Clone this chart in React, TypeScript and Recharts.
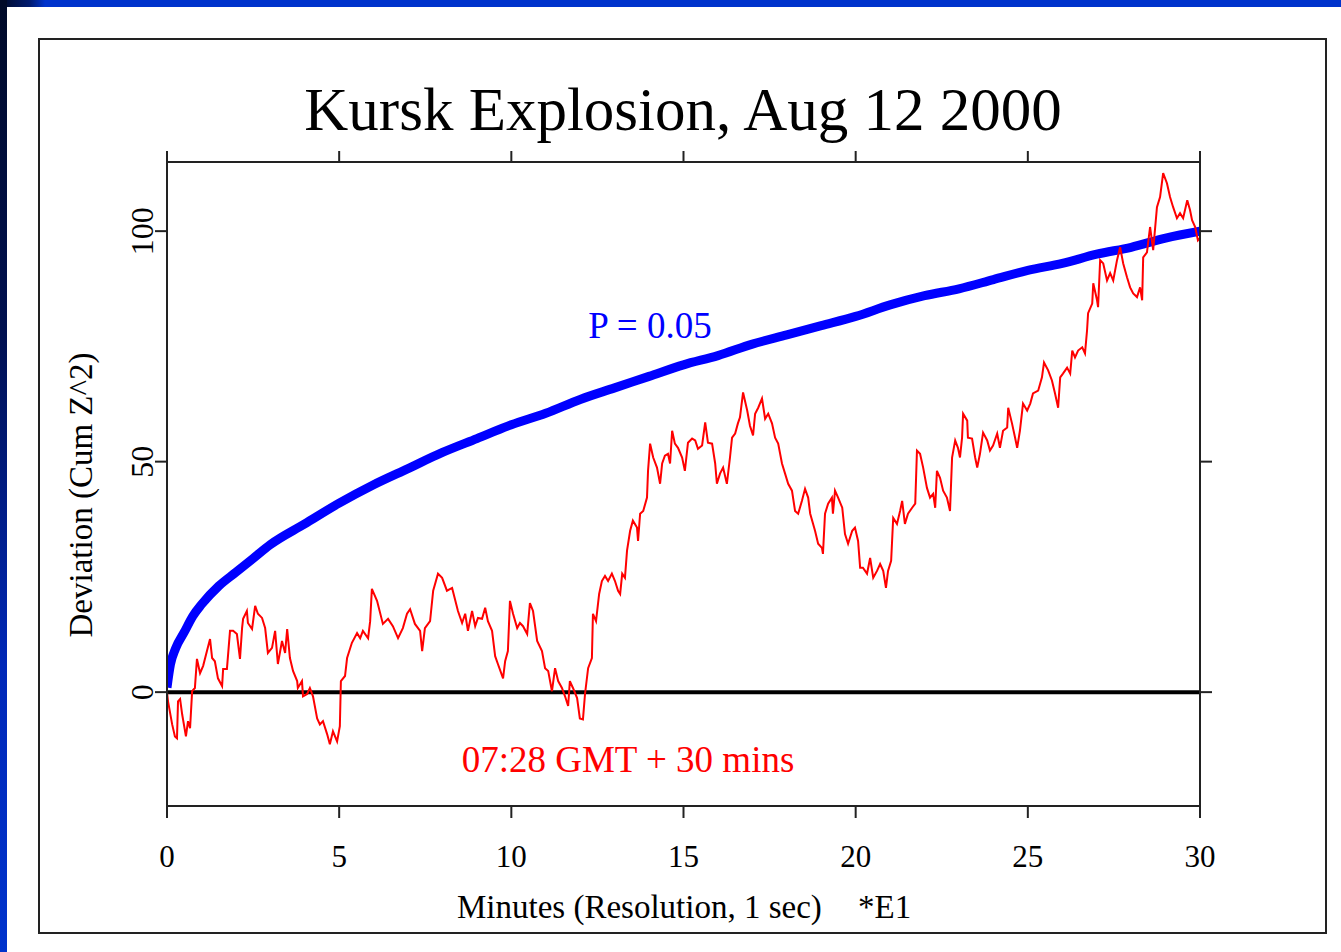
import React from 'react';
import { LineChart, Line, XAxis, YAxis, ReferenceLine } from 'recharts';

const title = 'Kursk Explosion, Aug 12 2000';
const xAxisLabel = 'Minutes (Resolution, 1 sec)';
const xAxisNote = '*E1';
const yAxisLabel = 'Deviation (Cum Z^2)';
const envelopeLabel = 'P = 0.05';
const seriesLabel = '07:28 GMT + 30 mins';

const xTicks = [0, 5, 10, 15, 20, 25, 30];
const yTicks = [0, 50, 100];

// P = 0.05 envelope (minutes, cumulative deviation)
const blueT = [0, 0.1, 0.25, 0.5, 0.75, 1, 1.5, 2, 2.5, 3, 4, 5, 6, 7, 8, 9, 10, 11, 12, 13, 14, 15, 16, 17, 18, 19, 20, 21, 22, 23, 24, 25, 26, 27, 28, 29, 30];
const blueV = [1, 6, 9.5, 13, 16.5, 19, 23, 26, 29, 32, 36.5, 41, 45, 48.5, 52, 55, 58, 60.5, 63.5, 66, 68.5, 71, 73, 75.5, 77.5, 79.5, 81.5, 84, 86, 87.5, 89.5, 91.5, 93, 95, 96.5, 98.5, 100];

// Observed cumulative deviation (minutes)
const redT = [
  0, 0.03, 0.15, 0.23, 0.29, 0.32, 0.38, 0.44, 0.55, 0.61, 0.67, 0.73, 0.81, 0.87, 0.96, 1.05, 1.16, 1.25, 1.31, 1.39,
  1.48, 1.6, 1.63, 1.74, 1.83, 1.92, 2.03, 2.12, 2.18, 2.21, 2.32, 2.35, 2.47, 2.56, 2.64, 2.76, 2.85, 2.93, 3.05, 3.14,
  3.22, 3.34, 3.43, 3.49, 3.57, 3.66, 3.78, 3.8, 3.92, 3.95, 4.07, 4.15, 4.24, 4.36, 4.44, 4.53, 4.65, 4.73, 4.82, 4.94,
  5.02, 5.05, 5.17, 5.23, 5.37, 5.52, 5.61, 5.69, 5.84, 5.9, 5.95, 6.1, 6.27, 6.42, 6.56, 6.71, 6.85, 6.97, 7.06, 7.2,
  7.35, 7.41, 7.49, 7.64, 7.73, 7.87, 7.99, 8.13, 8.28, 8.45, 8.57, 8.66, 8.74, 8.86, 8.95, 9.03, 9.15, 9.24, 9.32, 9.44,
  9.53, 9.61, 9.76, 9.82, 9.9, 9.96, 10.05, 10.17, 10.25, 10.34, 10.46, 10.54, 10.63, 10.75, 10.89, 10.98, 11.07, 11.18, 11.27, 11.36,
  11.47, 11.56, 11.65, 11.7, 11.79, 11.91, 11.99, 12.08, 12.14, 12.23, 12.34, 12.37, 12.46, 12.55, 12.63, 12.72, 12.81, 12.92, 13.01, 13.1,
  13.16, 13.22, 13.3, 13.36, 13.45, 13.53, 13.65, 13.68, 13.74, 13.83, 13.94, 13.97, 14.03, 14.12, 14.23, 14.32, 14.38, 14.46, 14.55, 14.61,
  14.67, 14.75, 14.84, 14.96, 15.04, 15.13, 15.25, 15.34, 15.42, 15.54, 15.63, 15.71, 15.83, 15.92, 15.97, 16.06, 16.15, 16.26, 16.35, 16.41,
  16.5, 16.58, 16.64, 16.73, 16.85, 16.93, 17.02, 17.08, 17.17, 17.28, 17.37, 17.46, 17.57, 17.66, 17.75, 17.86, 17.95, 18.04, 18.15, 18.24,
  18.33, 18.44, 18.53, 18.62, 18.68, 18.82, 18.91, 19.02, 19.05, 19.11, 19.2, 19.31, 19.34, 19.4, 19.49, 19.61, 19.69, 19.78, 19.9, 19.98,
  20.07, 20.13, 20.21, 20.33, 20.42, 20.51, 20.62, 20.71, 20.8, 20.88, 20.94, 21.03, 21.09, 21.2, 21.29, 21.35, 21.43, 21.52, 21.64, 21.73,
  21.78, 21.87, 21.96, 22.07, 22.16, 22.25, 22.31, 22.36, 22.45, 22.54, 22.65, 22.74, 22.8, 22.89, 22.97, 23.03, 23.09, 23.12, 23.24, 23.26,
  23.38, 23.47, 23.53, 23.61, 23.7, 23.82, 23.9, 23.99, 24.11, 24.19, 24.28, 24.4, 24.43, 24.54, 24.63, 24.69, 24.77, 24.86, 24.98, 25.07,
  25.15, 25.3, 25.41, 25.47, 25.59, 25.7, 25.79, 25.88, 25.94, 26.02, 26.14, 26.23, 26.29, 26.37, 26.46, 26.58, 26.66, 26.72, 26.75, 26.87,
  26.9, 27.01, 27.04, 27.1, 27.19, 27.3, 27.39, 27.48, 27.59, 27.68, 27.77, 27.88, 27.97, 28.06, 28.17, 28.26, 28.32, 28.35, 28.46, 28.55,
  28.64, 28.75, 28.84, 28.93, 29.04, 29.13, 29.22, 29.33, 29.42, 29.51, 29.63, 29.71, 29.77, 29.86, 29.94, 30
];
const redV = [
  0, -2.0, -7.0, -9.6, -10.0, -2.0, -1.5, -4.8, -9.6, -6.3, -7.8, 0.2, 0.9, 7.2, 4.1, 5.7, 8.9, 11.5, 7.4, 6.7,
  3.0, 1.3, 5.0, 5.0, 13.3, 13.3, 12.6, 7.2, 13.9, 15.9, 17.6, 15.0, 13.7, 18.7, 17.0, 16.1, 13.9, 8.5, 9.6, 13.3,
  6.1, 11.1, 8.5, 13.7, 7.4, 4.6, 2.4, 0.9, 2.4, -0.9, -0.4, 0.9, -0.9, -5.7, -7.0, -6.3, -9.1, -11.3, -8.5, -10.7,
  -7.4, 2.4, 3.5, 7.4, 10.7, 12.8, 11.7, 13.3, 11.7, 15.4, 22.4, 19.8, 14.8, 15.9, 14.3, 11.7, 13.9, 17.0, 18.0, 14.8,
  13.3, 8.9, 13.9, 15.4, 22.0, 25.7, 24.8, 22.0, 22.6, 17.6, 15.0, 17.0, 13.3, 17.6, 14.3, 16.1, 15.9, 18.3, 15.4, 13.3,
  7.8, 6.1, 3.0, 6.7, 8.9, 19.8, 17.0, 13.9, 15.0, 14.3, 12.6, 19.3, 17.6, 11.1, 8.9, 5.2, 4.6, 0.2, 5.2, 2.4,
  0.9, -0.9, -3.0, 2.4, 0.9, -1.3, -5.7, -5.9, -0.4, 5.2, 7.4, 17.0, 15.4, 21.3, 24.1, 25.2, 24.1, 25.7, 24.1, 22.0,
  21.3, 25.7, 24.8, 30.7, 35.0, 37.2, 35.7, 32.8, 38.7, 39.3, 42.2, 48.0, 53.9, 50.9, 48.7, 45.2, 49.6, 51.3, 51.7, 49.6,
  56.7, 53.9, 53.0, 50.9, 48.0, 54.1, 55.0, 54.6, 52.8, 53.5, 58.5, 54.1, 53.9, 49.6, 45.2, 47.4, 48.7, 45.2, 50.9, 55.2,
  56.1, 58.3, 59.6, 65.0, 61.1, 57.8, 55.7, 60.4, 61.7, 63.7, 59.3, 60.4, 58.3, 55.2, 53.9, 49.6, 47.4, 45.2, 43.7, 39.3,
  38.7, 41.5, 44.1, 42.2, 38.7, 35.0, 32.2, 31.3, 30.0, 38.7, 40.9, 42.2, 38.7, 43.7, 42.2, 40.0, 34.3, 32.2, 35.0, 35.7,
  32.8, 27.0, 27.0, 25.7, 29.1, 24.8, 26.3, 27.8, 26.3, 22.6, 26.3, 28.5, 37.8, 36.5, 39.3, 41.5, 36.5, 38.7, 40.0, 40.9,
  52.4, 51.7, 48.7, 44.3, 42.2, 43.0, 40.0, 48.0, 46.5, 43.7, 42.2, 39.3, 50.9, 54.6, 53.0, 50.9, 55.2, 60.4, 58.9, 55.2,
  55.0, 50.9, 48.7, 51.7, 56.3, 54.6, 52.4, 53.5, 56.1, 53.0, 56.7, 57.4, 61.7, 58.3, 55.2, 53.0, 56.7, 62.6, 61.1, 62.6,
  64.8, 65.4, 68.3, 71.5, 69.8, 67.6, 64.8, 61.7, 68.3, 69.1, 70.4, 69.1, 74.1, 72.6, 74.1, 74.8, 73.5, 78.5, 82.2, 84.3,
  88.7, 85.0, 83.5, 93.7, 93.0, 89.3, 90.9, 89.3, 93.7, 96.5, 93.0, 90.0, 87.8, 86.5, 85.7, 87.8, 85.0, 94.3, 95.4, 100.9,
  95.9, 105.2, 107.4, 112.6, 110.4, 107.4, 105.2, 102.8, 103.9, 102.8, 106.7, 104.6, 102.4, 100.9, 98.0, 98.5
];

const blueData = blueT.map((t, i) => ({ t, v: blueV[i] }));
const redData = redT.map((t, i) => ({ t, v: redV[i] }));

const FONT = '"Liberation Serif", "Times New Roman", Times, serif';
const W = 1341;
const H = 952;

const LeftTick = (props: any) => {
  const { x, y, payload } = props;
  return (
    <text
      x={x}
      y={y}
      transform={`rotate(-90 ${x} ${y})`}
      textAnchor="middle"
      fontFamily={FONT}
      fontSize={32}
      fill="#000"
    >
      {payload.value}
    </text>
  );
};

const blank = () => '';

export default function App() {
  return (
    <div style={{ position: 'absolute', left: 0, top: 0, width: W, height: H, background: '#0033cc', overflow: 'hidden' }}>
      <div style={{ position: 'absolute', left: 0, top: 0, width: W, height: 7, background: 'linear-gradient(to right, #000a28 0px, #001a70 30px, #0033cc 45px, #0033cc 100%)' }} />
      <div style={{ position: 'absolute', left: 0, top: 0, width: 7, height: H, background: 'linear-gradient(to bottom, #000a28 0%, #001050 35%, #0028b8 70%, #0033cc 100%)' }} />
      <div style={{ position: 'absolute', left: 7, top: 7, width: W - 7, height: H - 7, background: '#fff' }} />
      <div style={{ position: 'absolute', left: 38, top: 38, width: 1289, height: 896, border: '2px solid #222', boxSizing: 'border-box' }} />

      <div style={{ position: 'absolute', left: 0, top: 0 }}>
        <LineChart width={W} height={H} margin={{ top: 142, right: 111, bottom: 86, left: 107 }}>
          <XAxis
            xAxisId="bottom"
            type="number"
            dataKey="t"
            domain={[0, 30]}
            ticks={xTicks}
            orientation="bottom"
            height={60}
            tickSize={12}
            tickMargin={27}
            axisLine={{ stroke: '#222', strokeWidth: 2 }}
            tickLine={{ stroke: '#222', strokeWidth: 2 }}
            tick={{ fill: '#000', fontSize: 31, fontFamily: FONT }}
            allowDataOverflow
          />
          <XAxis
            xAxisId="top"
            type="number"
            dataKey="t"
            domain={[0, 30]}
            ticks={xTicks}
            orientation="top"
            height={20}
            tickSize={11}
            tickFormatter={blank}
            axisLine={{ stroke: '#222', strokeWidth: 2 }}
            tickLine={{ stroke: '#222', strokeWidth: 2 }}
            allowDataOverflow
          />
          <YAxis
            yAxisId="left"
            type="number"
            domain={[-24.7, 115]}
            ticks={yTicks}
            orientation="left"
            width={60}
            tickSize={12}
            tickMargin={2}
            axisLine={{ stroke: '#222', strokeWidth: 2 }}
            tickLine={{ stroke: '#222', strokeWidth: 2 }}
            tick={<LeftTick />}
            allowDataOverflow
          />
          <YAxis
            yAxisId="right"
            type="number"
            domain={[-24.7, 115]}
            ticks={yTicks}
            orientation="right"
            width={30}
            tickSize={12}
            tickFormatter={blank}
            axisLine={{ stroke: '#222', strokeWidth: 2 }}
            tickLine={{ stroke: '#222', strokeWidth: 2 }}
            allowDataOverflow
          />
          <ReferenceLine xAxisId="bottom" yAxisId="left" y={0} stroke="#000" strokeWidth={4} />
          <Line
            xAxisId="bottom"
            yAxisId="left"
            data={blueData}
            dataKey="v"
            type="monotone"
            stroke="#0000ff"
            strokeWidth={9}
            dot={false}
            isAnimationActive={false}
          />
          <Line
            xAxisId="bottom"
            yAxisId="left"
            data={redData}
            dataKey="v"
            type="linear"
            stroke="#ff0000"
            strokeWidth={2}
            dot={false}
            isAnimationActive={false}
          />
        </LineChart>
      </div>

      <svg width={W} height={H} style={{ position: 'absolute', left: 0, top: 0, pointerEvents: 'none' }}>
        <text x={683} y={130} textAnchor="middle" fontFamily={FONT} fontSize={61} fill="#000">{title}</text>
        <text x={650} y={338} textAnchor="middle" fontFamily={FONT} fontSize={37} fill="#0000ff">{envelopeLabel}</text>
        <text x={628} y={772} textAnchor="middle" fontFamily={FONT} fontSize={37} fill="#ff0000">{seriesLabel}</text>
        <text x={457} y={918} textAnchor="start" fontFamily={FONT} fontSize={33} fill="#000">{xAxisLabel}</text>
        <text x={858} y={918} textAnchor="start" fontFamily={FONT} fontSize={33} fill="#000">{xAxisNote}</text>
        <text x={92} y={495} transform="rotate(-90 92 495)" textAnchor="middle" fontFamily={FONT} fontSize={33} fill="#000">{yAxisLabel}</text>
      </svg>
    </div>
  );
}
